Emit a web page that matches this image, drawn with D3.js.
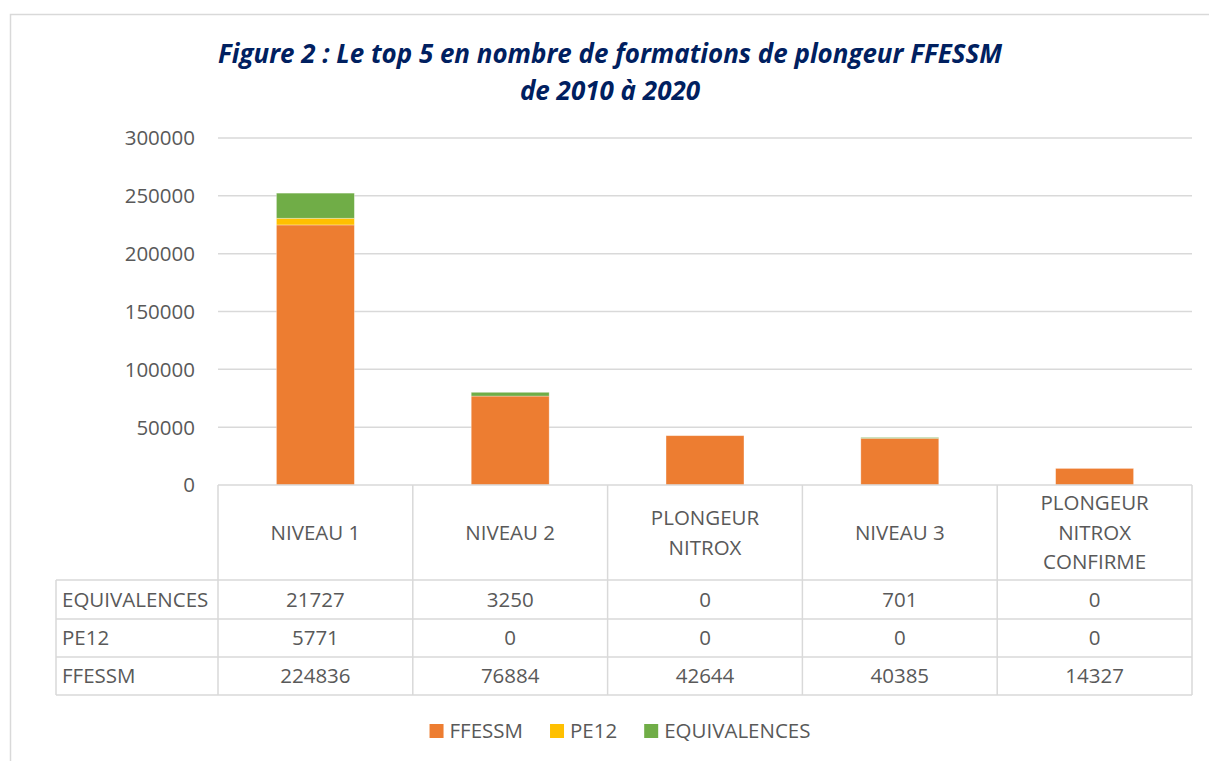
<!DOCTYPE html>
<html>
<head>
<meta charset="utf-8">
<script src="https://cdn.jsdelivr.net/npm/d3@7"></script>
<style>
  body { margin: 0; background: #fff; }
  svg { display: block; font-family: "Open Sans", "Noto Sans", sans-serif; }
</style>
</head>
<body>
<svg id="chart" width="1209" height="761"></svg>
<script>
// données du graphique
const categories = ["NIVEAU 1", "NIVEAU 2", "PLONGEUR NITROX", "NIVEAU 3", "PLONGEUR NITROX CONFIRME"];
const headerLines = [["NIVEAU 1"], ["NIVEAU 2"], ["PLONGEUR", "NITROX"], ["NIVEAU 3"], ["PLONGEUR", "NITROX", "CONFIRME"]];
const ffessm = [224836, 76884, 42644, 40385, 14327];
const pe12 = [5771, 0, 0, 0, 0];
const equivalences = [21727, 3250, 0, 701, 0];
const yTicks = [0, 50000, 100000, 150000, 200000, 250000, 300000];
const seriesNames = ["FFESSM", "PE12", "EQUIVALENCES"];
const titleLines = ["Figure 2 : Le top 5 en nombre de formations de plongeur FFESSM", "de 2010 à 2020"];

const colors = { FFESSM: "#ED7D31", PE12: "#FFC000", EQUIVALENCES: "#70AD47" };
const textColor = "#595959";
const gridColor = "#D9D9D9";
const fontSize = 20.5;

const svg = d3.select("#chart");

// cadre du graphique
svg.append("rect")
  .attr("x", 10.5).attr("y", 14.5)
  .attr("width", 1220).attr("height", 780)
  .attr("fill", "none").attr("stroke", gridColor).attr("stroke-width", 1.5);

// titre
const title = svg.append("g").attr("class", "title");
titleLines.forEach((t, i) => {
  const txt = title.append("text")
    .attr("x", 610).attr("y", 63 + i * 37)
    .attr("text-anchor", "middle")
    .attr("fill", "#002060")
    .style("font-size", "26px").style("font-weight", "bold").style("font-style", "italic")
    .text(t);
  if (i === 0) {
    txt.attr("textLength", 784).attr("lengthAdjust", "spacingAndGlyphs");
  }
});

// échelles
const x = d3.scaleBand().domain(categories).range([218, 1192]);
const y = d3.scaleLinear().domain([0, 300000]).range([485, 138]);

// grille + étiquettes de l'axe Y
const yAxis = svg.append("g").attr("class", "y-axis");
yAxis.selectAll("line").data(yTicks.filter(d => d > 0)).enter()
  .append("line")
  .attr("x1", 218).attr("x2", 1192)
  .attr("y1", d => y(d)).attr("y2", d => y(d))
  .attr("stroke", gridColor).attr("stroke-width", 1.5);
yAxis.selectAll("text").data(yTicks).enter()
  .append("text")
  .attr("x", 195).attr("y", d => y(d)).attr("dy", "0.36em")
  .attr("text-anchor", "end")
  .attr("fill", textColor).style("font-size", fontSize + "px")
  .text(d => d);

// barres empilées
const rows = categories.map((c, i) => ({ cat: c, FFESSM: ffessm[i], PE12: pe12[i], EQUIVALENCES: equivalences[i] }));
const stacked = d3.stack().keys(seriesNames)(rows);
const barW = x.bandwidth() * 0.4;

svg.append("g").attr("class", "bars")
  .selectAll("g").data(stacked).enter()
  .append("g")
  .attr("fill", d => colors[d.key])
  .selectAll("rect").data(d => d.filter(s => s[1] - s[0] > 0)).enter()
  .append("rect")
  .attr("x", d => x(d.data.cat) + (x.bandwidth() - barW) / 2)
  .attr("width", barW)
  .attr("y", d => y(d[1]))
  .attr("height", d => y(d[0]) - y(d[1]))
  .attr("stroke", "#fff").attr("stroke-opacity", 0.4).attr("stroke-width", 0.75);

// tableau de données
const table = svg.append("g").attr("class", "table");
const tableRows = [
  { name: "EQUIVALENCES", values: equivalences },
  { name: "PE12", values: pe12 },
  { name: "FFESSM", values: ffessm }
];
const headerTop = 485, headerBottom = 580;
const rowY = [580, 619, 657, 695];
const tableLeft = 56;
const lineStyle = s => s.attr("stroke", gridColor).attr("stroke-width", 1.5);

// lignes horizontales
table.append("line").attr("x1", 218).attr("x2", 1192).attr("y1", headerTop).attr("y2", headerTop).call(lineStyle);
rowY.forEach(yy => {
  table.append("line").attr("x1", tableLeft).attr("x2", 1192).attr("y1", yy).attr("y2", yy).call(lineStyle);
});
// lignes verticales
table.append("line").attr("x1", tableLeft).attr("x2", tableLeft).attr("y1", headerBottom).attr("y2", rowY[3]).call(lineStyle);
categories.forEach(c => {
  table.append("line").attr("x1", x(c)).attr("x2", x(c)).attr("y1", headerTop).attr("y2", rowY[3]).call(lineStyle);
});
table.append("line").attr("x1", 1192).attr("x2", 1192).attr("y1", headerTop).attr("y2", rowY[3]).call(lineStyle);

// en-têtes des catégories
categories.forEach((c, i) => {
  const lines = headerLines[i];
  const mid = (headerTop + headerBottom) / 2;
  lines.forEach((l, j) => {
    table.append("text")
      .attr("x", x(c) + x.bandwidth() / 2)
      .attr("y", mid + (j - (lines.length - 1) / 2) * 29.5)
      .attr("dy", "0.36em")
      .attr("text-anchor", "middle")
      .attr("fill", textColor).style("font-size", fontSize + "px")
      .text(l);
  });
});

// valeurs
tableRows.forEach((r, ri) => {
  const cy = (rowY[ri] + rowY[ri + 1]) / 2;
  table.append("text")
    .attr("x", tableLeft + 6).attr("y", cy).attr("dy", "0.36em")
    .attr("fill", textColor).style("font-size", fontSize + "px")
    .text(r.name);
  r.values.forEach((v, ci) => {
    table.append("text")
      .attr("x", x(categories[ci]) + x.bandwidth() / 2).attr("y", cy).attr("dy", "0.36em")
      .attr("text-anchor", "middle")
      .attr("fill", textColor).style("font-size", fontSize + "px")
      .text(v);
  });
});

// légende
const legend = svg.append("g").attr("class", "legend");
const items = legend.selectAll("g").data(seriesNames).enter().append("g");
items.append("rect").attr("width", 14).attr("height", 14).attr("y", -7).attr("fill", d => colors[d]);
items.append("text").attr("x", 20).attr("dy", "0.36em")
  .attr("fill", textColor).style("font-size", fontSize + "px")
  .text(d => d);
let lx = 0;
const offsets = [];
items.each(function () {
  offsets.push(lx);
  lx += 20 + this.querySelector("text").getComputedTextLength() + 27;
});
const legendW = lx - 27;
const legendStart = 620 - legendW / 2;
items.attr("transform", (d, i) => `translate(${legendStart + offsets[i]}, 731)`);
</script>
</body>
</html>
